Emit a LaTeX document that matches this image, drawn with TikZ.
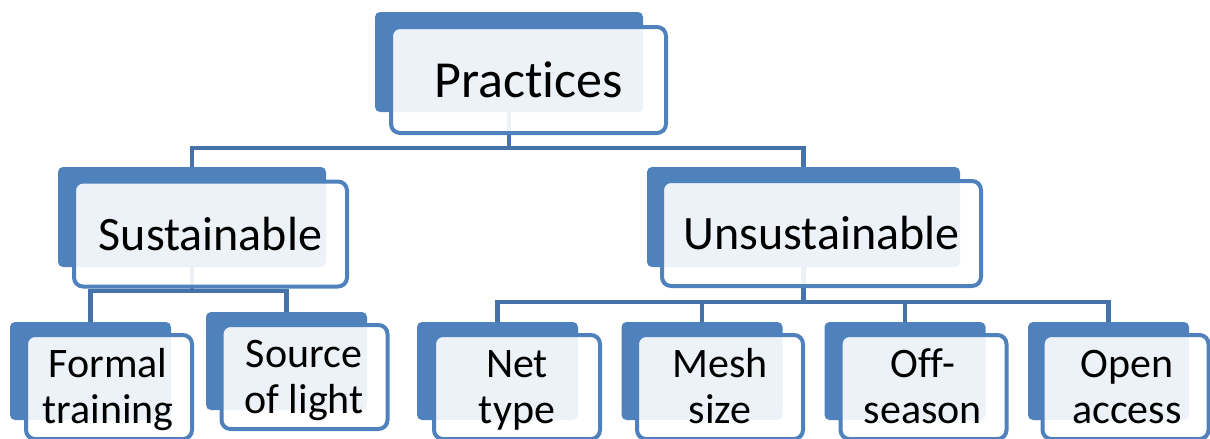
\documentclass[tikz,border=0pt]{standalone}
\usepackage{fontspec}
\setmainfont{Carlito}[Ligatures={NoCommon}, Contextuals={NoAlternate}]
\definecolor{boxblue}{HTML}{4F81BD}
\definecolor{linkblue}{HTML}{4672AA}

\begin{document}
\begin{tikzpicture}[x=1pt,y=-1pt,
  back/.style={fill=boxblue, rounded corners=5pt, inner sep=0pt},
  front/.style={fill=white, fill opacity=0.9, text opacity=1, draw=boxblue,
    line width=4pt, rounded corners=9pt, inner sep=0pt, align=center},
  bigback/.style={back, minimum height=100pt},
  bigfront/.style={front, minimum height=105pt, font=\fontsize{48}{58}\selectfont},
  leafback/.style={back, minimum width=161pt, minimum height=98pt},
  leaffront/.style={front, minimum width=166pt, minimum height=104pt},
  leaftext/.style={inner sep=0pt, align=center, font=\fontsize{42}{46}\selectfont},
  link/.style={draw=linkblue, line width=4.5pt}]
\useasboundingbox (0,0) rectangle (1210,439);

% back plates
\node[bigback, minimum width=268pt] (pB) at (509,62) {};
\node[bigback, minimum width=268pt] (sB) at (192,217) {};
\node[bigback, minimum width=313pt] (uB) at (803.5,217) {};
\node[leafback] (ftB) at (90.5,371) {};
\node[leafback] (slB) at (286.5,361) {};
\node[leafback] (ntB) at (497.5,371) {};
\node[leafback] (msB) at (702,371) {};
\node[leafback] (osB) at (905,371) {};
\node[leafback] (oaB) at (1108.5,371) {};

% connectors
\coordinate (pJ) at (509,148);
\coordinate (sJ) at (192,291);
\coordinate (uJ) at (803.5,302);
\draw[link] (pB.south) -- (pJ) -| (sB.north);
\draw[link] (pJ) -| (uB.north);
\draw[link] (sB.south) -- (sJ) -| (ftB.north);
\draw[link] (sJ) -| (slB.north);
\draw[link] (uB.south) -- (uJ) -| (ntB.north);
\draw[link] (uJ) -| (msB.north);
\draw[link] (uJ) -| (osB.north);
\draw[link] (uJ) -| (oaB.north);

% front cards
\node[front, minimum width=275pt, minimum height=106pt,
  font=\fontsize{52}{60}\selectfont] (p) at (528.5,80) {Practices};
\node[bigfront, minimum width=273pt] (s) at (210.5,234) {Sustainable};
\node[bigfront, minimum width=319pt] (u) at (821.5,233.5) {Unsustainable};
\node[leaffront] (ft) at (109,387) {};
\node[leaffront] (sl) at (304.5,377) {};
\node[leaffront] (nt) at (517,387) {};
\node[leaffront] (ms) at (720,387) {};
\node[leaffront] (os) at (923.5,387) {};
\node[leaffront] (oa) at (1125.5,387) {};

% two-line labels of the leaf cards
\node[leaftext] (ftL) at (108,391) {\strut Formal\\\strut training};
\node[leaftext] (slL) at (304,381) {\strut Source\\\strut of light};
\node[leaftext] (ntL) at (517,391.5) {\strut Net\\\strut type};
\node[leaftext] (msL) at (720,391.5) {\strut Mesh\\\strut size};
\node[leaftext] (osL) at (923,391.5) {\strut Off-\\\strut season};
\node[leaftext] (oaL) at (1127,391.5) {\strut Open\\\strut access};
\end{tikzpicture}
\end{document}
